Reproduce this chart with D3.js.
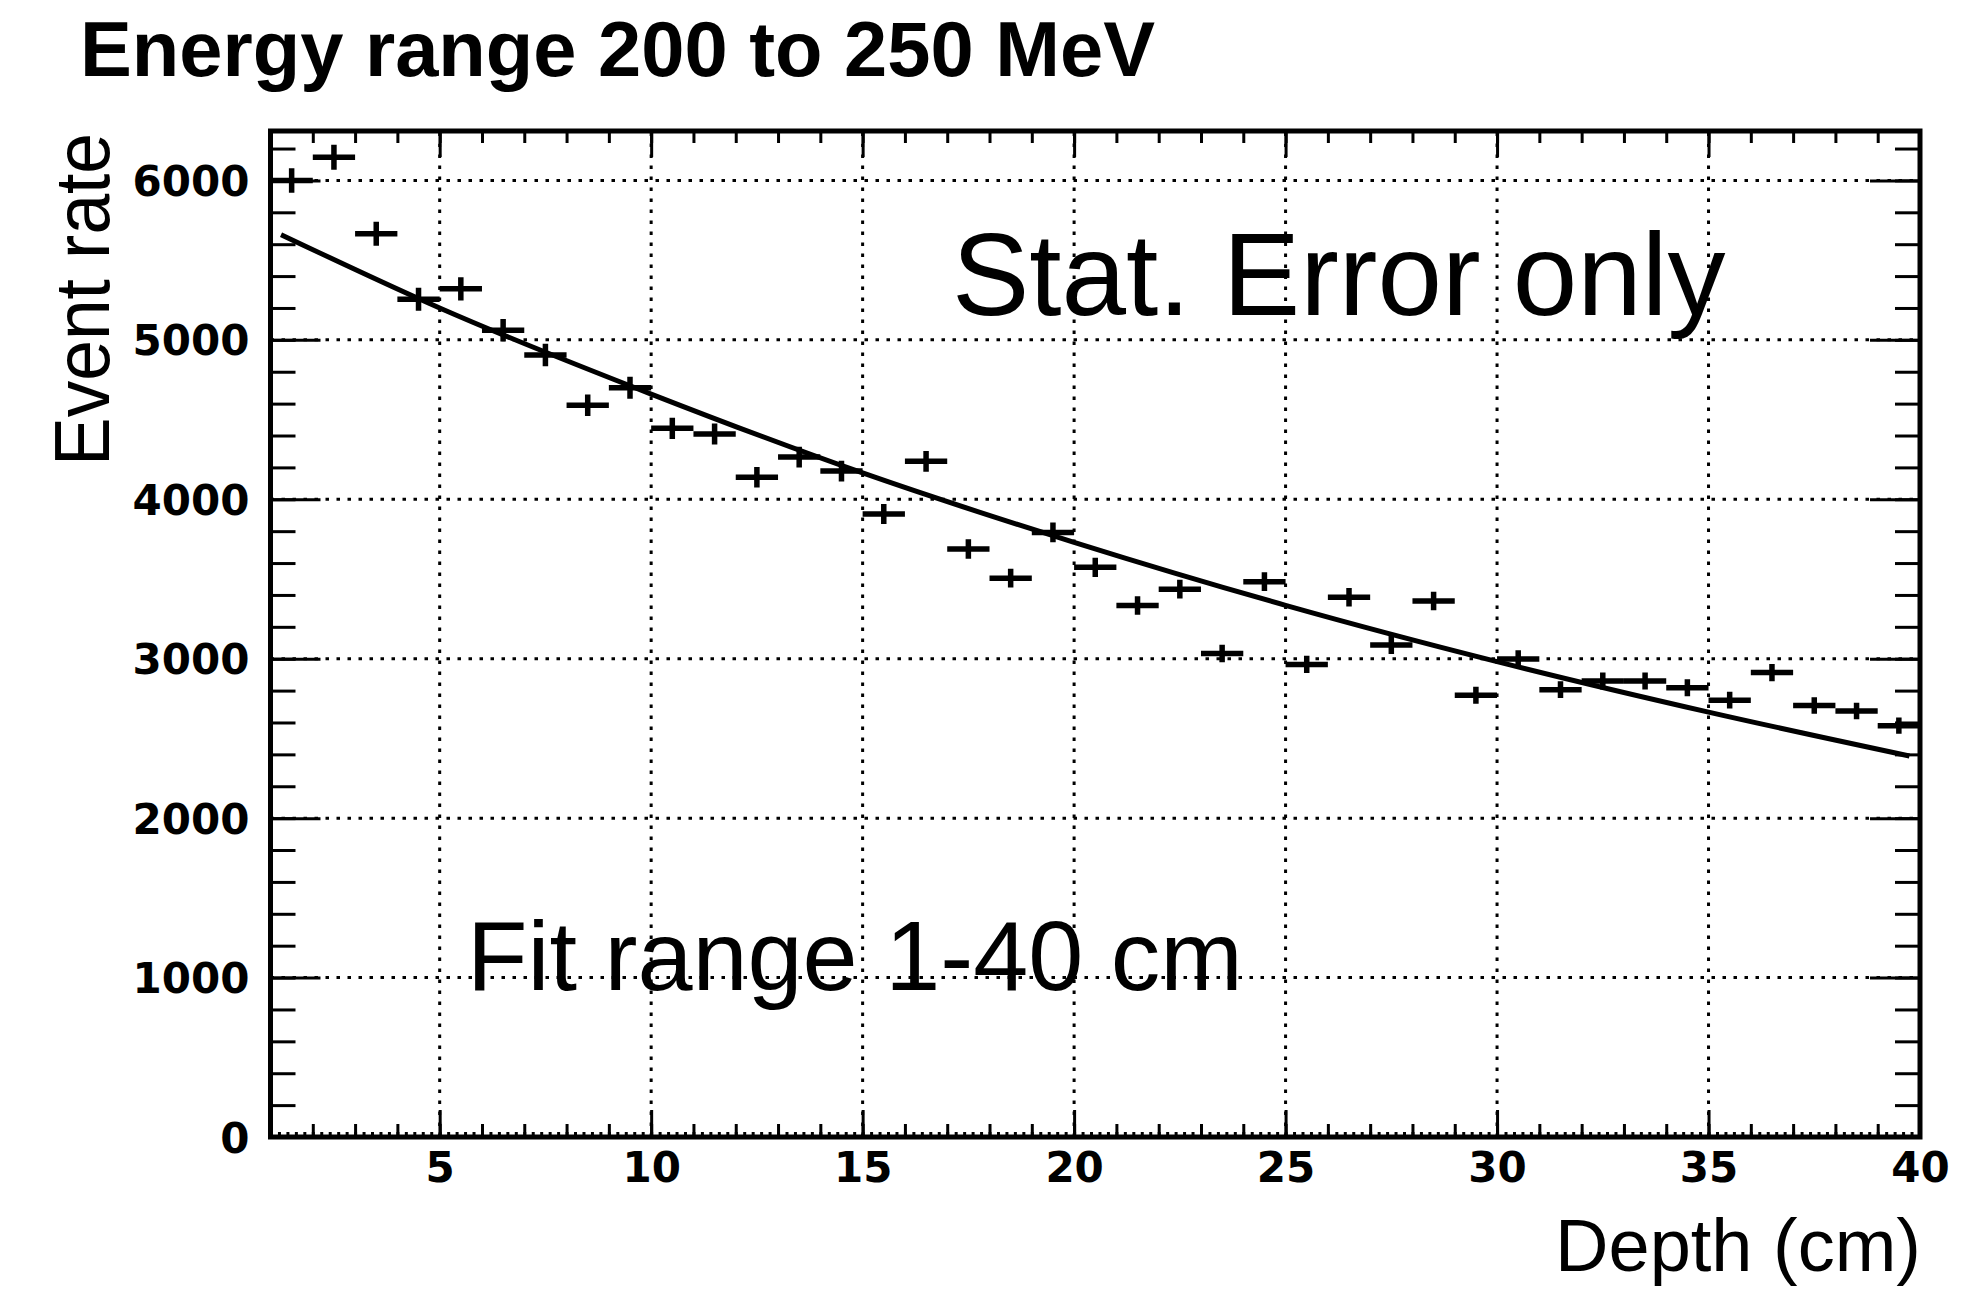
<!DOCTYPE html>
<html>
<head>
<meta charset="utf-8">
<script src="https://cdn.jsdelivr.net/npm/d3@7"></script>
<style>
  body { margin: 0; background: #fff; }
  svg { display: block; }
</style>
</head>
<body>
<div id="chart"></div>
<script>
// bin centres (cm) and event counts
const depth = [1.5, 2.5, 3.5, 4.5, 5.5, 6.5, 7.5, 8.5, 9.5, 10.5, 11.5, 12.5, 13.5, 14.5, 15.5, 16.5, 17.5, 18.5, 19.5, 20.5,
  21.5, 22.5, 23.5, 24.5, 25.5, 26.5, 27.5, 28.5, 29.5, 30.5, 31.5, 32.5, 33.5, 34.5, 35.5, 36.5, 37.5, 38.5, 39.5];
const rate = [6000, 6145, 5665, 5255, 5320, 5060, 4905, 4590, 4700, 4445, 4410, 4138, 4265, 4177, 3908, 4238, 3688, 3505, 3792, 3573,
  3333, 3436, 3033, 3483, 2964, 3386, 3086, 3362, 2771, 2998, 2806, 2860, 2860, 2818, 2740, 2913, 2707, 2672, 2580];
const rateErr = [77, 78, 75, 72, 73, 71, 70, 68, 69, 67, 66, 64, 65, 65, 63, 65, 61, 59, 62, 60,
  58, 59, 55, 59, 54, 58, 56, 58, 53, 55, 53, 53, 53, 53, 52, 54, 52, 52, 51];
const binWidth = 1;

// fit curve, sampled from the drawn line
const fitX = [1.25, 5, 10, 15, 20, 25, 30, 35, 39.75];
const fitY = [5660, 5200, 4660, 4165, 3730, 3335, 2982, 2665, 2390];

const xTicks = [5, 10, 15, 20, 25, 30, 35, 40];
const yTicks = [0, 1000, 2000, 3000, 4000, 5000, 6000];

const W = 1977, H = 1289;
const padLeft = 270.5, padRight = 1920, padTop = 131, padBottom = 1137;

const svg = d3.select('#chart').append('svg')
  .attr('width', W)
  .attr('height', H)
  .attr('viewBox', [0, 0, W, H]);

const x = d3.scaleLinear().domain([1, 40]).range([padLeft, padRight]);
const y = d3.scaleLinear().domain([0, 6310]).range([padBottom, padTop]);

// dotted grid
const grid = svg.append('g')
  .attr('stroke', '#000')
  .attr('stroke-width', 3)
  .attr('stroke-dasharray', '3.5,7.5');
grid.selectAll('.gx')
  .data(xTicks.filter(d => d < 40))
  .join('line')
    .attr('class', 'gx')
    .attr('x1', d => x(d)).attr('x2', d => x(d))
    .attr('y1', padBottom).attr('y2', padTop);
grid.selectAll('.gy')
  .data(yTicks.filter(d => d > 0))
  .join('line')
    .attr('class', 'gy')
    .attr('x1', padLeft).attr('x2', padRight)
    .attr('y1', d => y(d)).attr('y2', d => y(d));

const range = (a, b, s) => d3.range(a, b + s / 2, s).map(v => +v.toFixed(3));

const addAxis = (axis, tx, ty, size, values, labels) => {
  const g = svg.append('g')
    .attr('transform', `translate(${tx},${ty})`)
    .call(axis.tickValues(values).tickSize(size).tickFormat(labels ? d3.format('d') : ''));
  g.select('.domain').remove();
  g.selectAll('line').attr('stroke-width', 3);
  return g;
};

const labelStyle = sel => sel
  .attr('fill', '#000')
  .style('font-family', '"DejaVu Sans", sans-serif')
  .style('font-weight', 'bold')
  .style('font-size', '42px');

// bottom axis: tiny, secondary and primary ticks
addAxis(d3.axisBottom(x), 0, padBottom, -5, range(1, 40, 0.2), false);
addAxis(d3.axisBottom(x), 0, padBottom, -13, range(1, 40, 1), false);
const xAxis = addAxis(d3.axisBottom(x), 0, padBottom, -27, xTicks, true);
xAxis.selectAll('text')
  .attr('y', 45)
  .attr('dy', 0)
  .call(labelStyle);

// top axis
addAxis(d3.axisTop(x), 0, padTop, -12, range(1, 40, 1), false);
addAxis(d3.axisTop(x), 0, padTop, -26, xTicks, false);

// left axis
addAxis(d3.axisLeft(y), padLeft, 0, -25, range(0, 6200, 200), false);
const yAxis = addAxis(d3.axisLeft(y), padLeft, 0, -50, yTicks, true);
yAxis.selectAll('text')
  .attr('x', -21)
  .attr('dy', '0.36em')
  .call(labelStyle);

// right axis
addAxis(d3.axisRight(y), padRight, 0, -25, range(0, 6200, 200), false);
addAxis(d3.axisRight(y), padRight, 0, -50, yTicks, false);

// frame
svg.append('rect')
  .attr('x', padLeft).attr('y', padTop)
  .attr('width', padRight - padLeft).attr('height', padBottom - padTop)
  .attr('fill', 'none')
  .attr('stroke', '#000')
  .attr('stroke-width', 5);

// fit function
svg.append('path')
  .datum(fitX.map((d, i) => [d, fitY[i]]))
  .attr('fill', 'none')
  .attr('stroke', '#000')
  .attr('stroke-width', 5)
  .attr('d', d3.line().x(d => x(d[0])).y(d => y(d[1])).curve(d3.curveMonotoneX));

// data points with error bars
const points = svg.append('g')
  .attr('stroke', '#000')
  .attr('stroke-width', 5.5)
  .attr('fill', 'none');
points.selectAll('path')
  .data(depth)
  .join('path')
    .attr('d', (d, i) => `M${x(d - binWidth / 2)},${y(rate[i])}H${x(d + binWidth / 2)}` +
      `M${x(d)},${y(rate[i] - rateErr[i])}V${y(rate[i] + rateErr[i])}`);

// texts
const text = (str, tx, ty, size, opts = {}) => {
  const t = svg.append('text')
    .attr('x', tx).attr('y', ty)
    .attr('fill', '#000')
    .style('font-family', opts.family || '"Liberation Sans", Arial, sans-serif')
    .style('font-weight', opts.weight || 'normal')
    .style('font-size', `${size}px`)
    .attr('text-anchor', opts.anchor || 'start')
    .text(str);
  if (opts.length) t.attr('textLength', opts.length).attr('lengthAdjust', 'spacingAndGlyphs');
  if (opts.rotate) t.attr('transform', `rotate(${opts.rotate},${tx},${ty})`);
  return t;
};

text('Energy range 200 to 250 MeV', 80, 76, 78, { weight: 'bold', length: 1075 });
text('Event rate', 109, 133, 77, { anchor: 'end', rotate: -90, length: 333 });
text('Depth (cm)', 1921, 1271, 74, { anchor: 'end' });
text('Stat. Error only', 952, 315, 116);
text('Fit range 1-40 cm', 467, 990, 99);
</script>
</body>
</html>
